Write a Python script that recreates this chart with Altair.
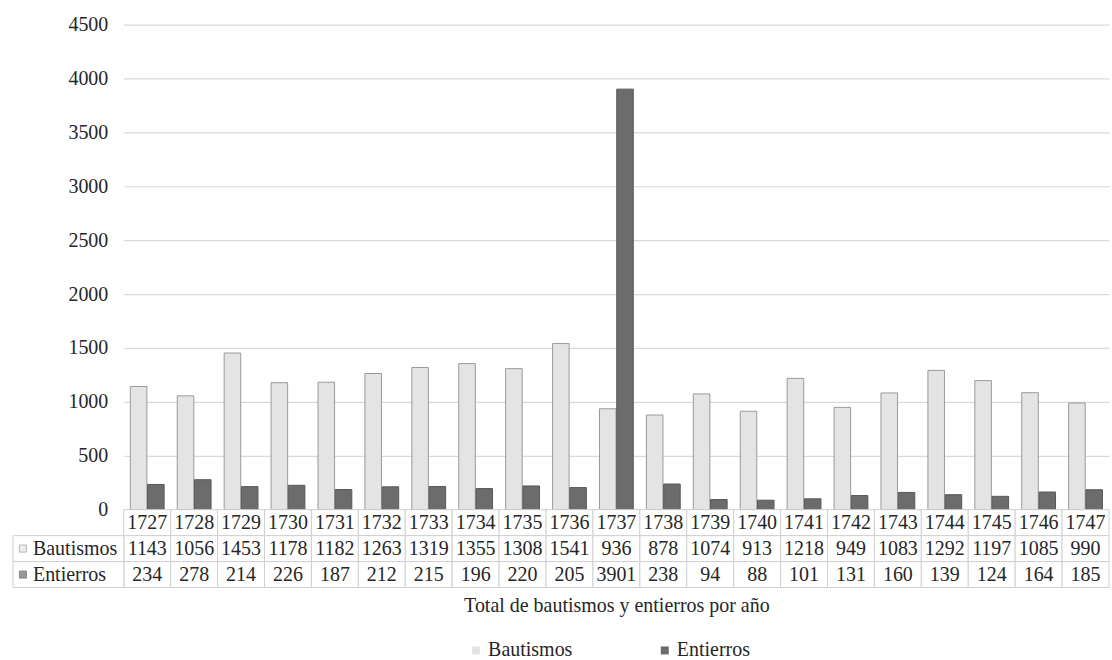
import altair as alt
import pandas as pd

# Yearly totals of baptisms and burials
years = [1727, 1728, 1729, 1730, 1731, 1732, 1733, 1734, 1735, 1736, 1737,
         1738, 1739, 1740, 1741, 1742, 1743, 1744, 1745, 1746, 1747]
bautismos = [1143, 1056, 1453, 1178, 1182, 1263, 1319, 1355, 1308, 1541, 936,
             878, 1074, 913, 1218, 949, 1083, 1292, 1197, 1085, 990]
entierros = [234, 278, 214, 226, 187, 212, 215, 196, 220, 205, 3901,
             238, 94, 88, 101, 131, 160, 139, 124, 164, 185]
series = ["Bautismos", "Entierros"]
y_ticks = [0, 500, 1000, 1500, 2000, 2500, 3000, 3500, 4000, 4500]
x_title = "Total de bautismos y entierros por año"

FONT = "Liberation Serif"
FS = 20
TXT = "#262626"
FILLS = ["#e4e4e4", "#6c6c6c"]
STROKES = ["#9a9a9a", "#585858"]
GRID = "#d9d9d9"
BORDER = "#d0d0d0"

bars_df = pd.DataFrame(
    [{"year": str(y), "serie": "Bautismos", "valor": b} for y, b in zip(years, bautismos)]
    + [{"year": str(y), "serie": "Entierros", "valor": e} for y, e in zip(years, entierros)]
)

year_order = [str(y) for y in years]
row_order = ["Año", "Bautismos", "Entierros"]

table_df = pd.DataFrame(
    [{"year": str(y), "row": "Año", "label": str(y)} for y in years]
    + [{"year": str(y), "row": "Bautismos", "label": str(b)} for y, b in zip(years, bautismos)]
    + [{"year": str(y), "row": "Entierros", "label": str(e)} for y, e in zip(years, entierros)]
)
label_df = pd.DataFrame({"row": series})

PLOT_W = 987
PLOT_H = 486
ROW_H = 26

x_scale = alt.Scale(domain=year_order, paddingInner=0, paddingOuter=0)

bars = alt.Chart(bars_df).mark_bar(strokeWidth=1).encode(
    x=alt.X("year:O", scale=x_scale, axis=None),
    xOffset=alt.XOffset("serie:N", scale=alt.Scale(domain=series, paddingOuter=0.38, paddingInner=0.04)),
    y=alt.Y(
        "valor:Q",
        scale=alt.Scale(domain=[0, 4500], nice=False),
        axis=alt.Axis(
            values=y_ticks, format="d", title=None, grid=True, gridColor=GRID, gridWidth=1.2,
            domain=False, ticks=False, labelPadding=16, labelFont=FONT,
            labelFontSize=FS, labelColor=TXT,
        ),
    ),
    color=alt.Color(
        "serie:N",
        scale=alt.Scale(domain=series, range=FILLS),
        legend=alt.Legend(
            title=None, orient="none", direction="horizontal",
            legendX=343, legendY=617, padding=0,
            symbolType="square", symbolSize=64, symbolStrokeWidth=0,
            labelFont=FONT, labelFontSize=FS, labelColor=TXT,
            labelOffset=2, columnPadding=82,
        ),
    ),
    stroke=alt.Stroke("serie:N", scale=alt.Scale(domain=series, range=STROKES), legend=None),
).properties(width=PLOT_W, height=PLOT_H)

y_rows = alt.Y("row:N", scale=alt.Scale(type="band", domain=row_order, paddingInner=0, paddingOuter=0), axis=None)

cells = alt.Chart(table_df).mark_rect(fill="white", stroke=BORDER, strokeWidth=1).encode(
    x=alt.X(
        "year:O", scale=x_scale,
        axis=alt.Axis(
            labels=False, ticks=False, domain=False, title=x_title,
            titleFont=FONT, titleFontSize=FS, titleFontWeight="normal",
            titleColor=TXT, titlePadding=8,
        ),
    ),
    y=y_rows,
)

cell_text = alt.Chart(table_df).mark_text(font=FONT, fontSize=FS, color=TXT).encode(
    x=alt.X("year:O", scale=x_scale),
    y=y_rows,
    text="label:N",
)

label_cells = alt.Chart(label_df).mark_rect(fill="white", stroke=BORDER, strokeWidth=1).encode(
    x=alt.value(-111), x2=alt.value(0), y=y_rows,
)

label_sym = alt.Chart(label_df).mark_square(size=50, strokeWidth=1).encode(
    x=alt.value(-101), y=y_rows,
    fill=alt.Fill("row:N", scale=alt.Scale(domain=series, range=FILLS), legend=None),
    stroke=alt.Stroke("row:N", scale=alt.Scale(domain=series, range=STROKES), legend=None),
)

label_text = alt.Chart(label_df).mark_text(font=FONT, fontSize=FS, color=TXT, align="left").encode(
    x=alt.value(-91), y=y_rows, text="row:N",
)

table = alt.layer(cells, cell_text, label_cells, label_sym, label_text).properties(
    width=PLOT_W, height=ROW_H * 3
)

chart = alt.vconcat(bars, table, spacing=0, bounds="flush").properties(
    padding={"left": 12, "top": 14, "right": 2, "bottom": 4},
    background="white",
).configure_view(stroke=None)

chart.save("out.html", embed_options={"renderer": "svg", "actions": False})
